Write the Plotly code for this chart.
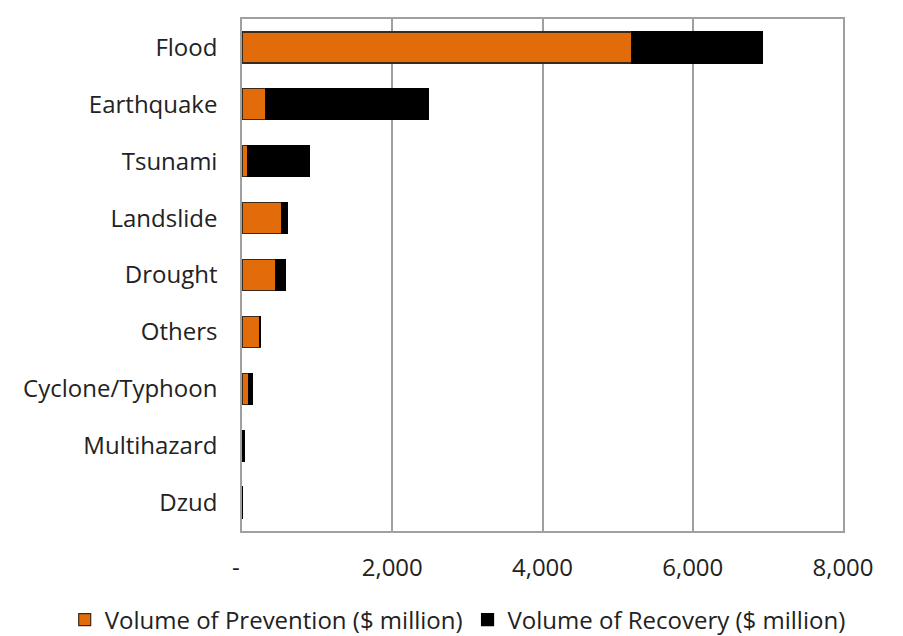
import plotly.graph_objects as go

categories = ["Flood", "Earthquake", "Tsunami", "Landslide", "Drought",
              "Others", "Cyclone/Typhoon", "Multihazard", "Dzud"]
prevention = [5187, 316, 77, 533, 453, 240, 93, 5, 3]
recovery = [1742, 2164, 816, 76, 130, 0, 45, 25, 2]

tick_vals = [0, 2000, 4000, 6000, 8000]
tick_text = ["-\u00a0\u00a0", "2,000", "4,000", "6,000", "8,000"]

font_family = "Open Sans"

fig = go.Figure()
fig.add_trace(go.Bar(
    y=categories, x=prevention, orientation="h",
    name="Volume of Prevention ($ million)",
    marker=dict(color="#E36C0A", line=dict(color="#3a2a1a", width=1.2)),
))
fig.add_trace(go.Bar(
    y=categories, x=recovery, orientation="h",
    name="Volume of Recovery ($ million)",
    marker=dict(color="#000000", line=dict(color="#000000", width=1.2)),
))

fig.update_layout(
    barmode="stack",
    bargap=0.455,
    width=895, height=628,
    margin=dict(l=234, r=60, t=11, b=105, autoexpand=False),
    paper_bgcolor="white",
    plot_bgcolor="white",
    font=dict(family=font_family, size=24, color="#222222"),
    showlegend=True,
    legend=dict(orientation="h", x=-0.295, xanchor="left", xref="paper",
                y=-0.174, yanchor="middle", yref="paper",
                font=dict(size=24), traceorder="normal", itemwidth=30,
                tracegroupgap=0),
    xaxis=dict(
        range=[0, 8000], tickvals=tick_vals, ticktext=tick_text,
        showgrid=True, gridcolor="#a0a0a0", gridwidth=1.5,
        showline=True, linecolor="#a0a0a0", linewidth=1.5, mirror=True,
        zeroline=False, ticks="", ticklabelstandoff=14,
        tickfont=dict(size=24),
    ),
    yaxis=dict(
        categoryorder="array", categoryarray=categories[::-1],
        showgrid=False,
        showline=True, linecolor="#a0a0a0", linewidth=1.5, mirror=True,
        ticks="", ticklabelstandoff=18,
        tickfont=dict(size=24),
    ),
)

fig.write_html("out.html")
